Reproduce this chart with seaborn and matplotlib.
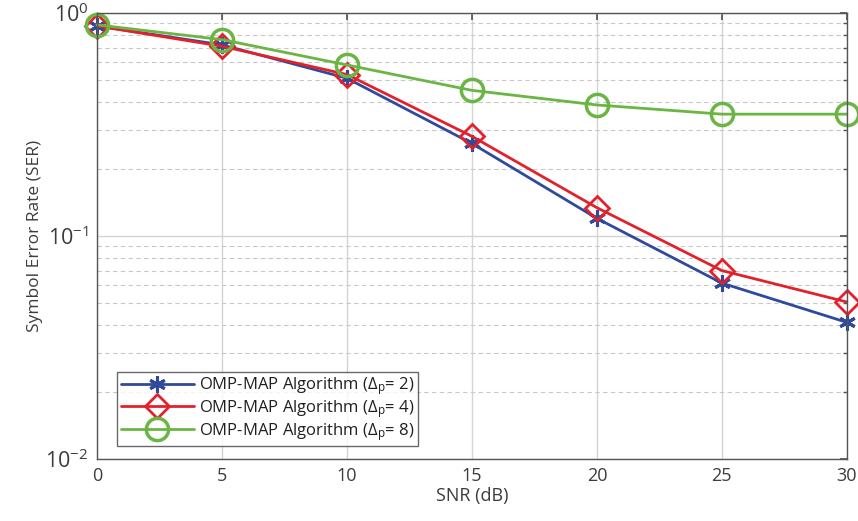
import numpy as np
import pandas as pd
import matplotlib
matplotlib.use('Agg')
import matplotlib.pyplot as plt
import seaborn as sns
from matplotlib.ticker import LogLocator, NullFormatter

snr = [0, 5, 10, 15, 20, 25, 30]
ser_dp2 = [0.875, 0.72, 0.51, 0.26, 0.12, 0.0615, 0.041]
ser_dp4 = [0.875, 0.71, 0.53, 0.28, 0.134, 0.070, 0.0506]
ser_dp8 = [0.885, 0.76, 0.585, 0.45, 0.387, 0.352, 0.352]
labels = [r'OMP-MAP Algorithm ($\mathregular{\Delta_p}$= 2)',
          r'OMP-MAP Algorithm ($\mathregular{\Delta_p}$= 4)',
          r'OMP-MAP Algorithm ($\mathregular{\Delta_p}$= 8)']

sns.set_theme(style='white')
plt.rcParams['font.family'] = ['Open Sans', 'DejaVu Sans']
plt.rcParams['mathtext.fontset'] = 'custom'
plt.rcParams['mathtext.rm'] = 'Open Sans'
plt.rcParams['mathtext.it'] = 'Open Sans'

text_col = '#3c3c3c'
fig = plt.figure(figsize=(8.58, 5.21), dpi=100)
ax = fig.add_axes([0.113, 0.119, 0.874, 0.856])

styles = [
    dict(color='#2f4a9c', marker=(6, 2, 0), markersize=12, mew=2.2),
    dict(color='#e3212b', marker='D', markersize=12, mew=2, mfc='none'),
    dict(color='#6bb545', marker='o', markersize=16, mew=2.5, mfc='none'),
]
for vals, lab, st in zip([ser_dp2, ser_dp4, ser_dp8], labels, styles):
    sns.lineplot(x=snr, y=vals, ax=ax, label=lab, linewidth=2,
                 mec=st['color'], clip_on=False, **st)

ax.set_yscale('log')
ax.set_xlim(0, 30)
ax.set_ylim(1e-2, 1e0)
ax.set_xticks(snr)
ax.yaxis.set_major_locator(LogLocator(base=10, numticks=5))
ax.yaxis.set_minor_locator(LogLocator(base=10, subs=np.arange(2, 10), numticks=20))
ax.yaxis.set_minor_formatter(NullFormatter())

ax.grid(True, which='major', color='#d4d4d4', linestyle='-', linewidth=1)
ax.grid(True, which='minor', axis='y', color='#c8c8c8', linestyle=(0, (4, 3)), linewidth=0.8)
ax.set_axisbelow(True)

for s in ax.spines.values():
    s.set_color('#555555')
    s.set_linewidth(1)
ax.tick_params(which='both', direction='in', top=True, right=True, color='#555555',
               labelsize=13, labelcolor=text_col)
ax.tick_params(axis='y', labelsize=15.5, pad=6)
ax.tick_params(which='major', length=5)
ax.tick_params(which='minor', length=3)
ax.tick_params(axis='x', pad=6)

ax.set_xlabel('SNR (dB)', fontsize=13, color=text_col, labelpad=1)
ax.set_ylabel('Symbol Error Rate (SER)', fontsize=12.5, color=text_col, labelpad=2)

leg = ax.legend(loc='lower left', bbox_to_anchor=(0.027, 0.029), borderaxespad=0,
                fontsize=12, handlelength=4.4, frameon=True, fancybox=False,
                borderpad=0.2, labelspacing=0.05, handletextpad=0.3,
                labelcolor='#202020')
leg.get_frame().set_edgecolor('#444444')
leg.get_frame().set_linewidth(1)

fig.savefig('out.png', dpi=100)
